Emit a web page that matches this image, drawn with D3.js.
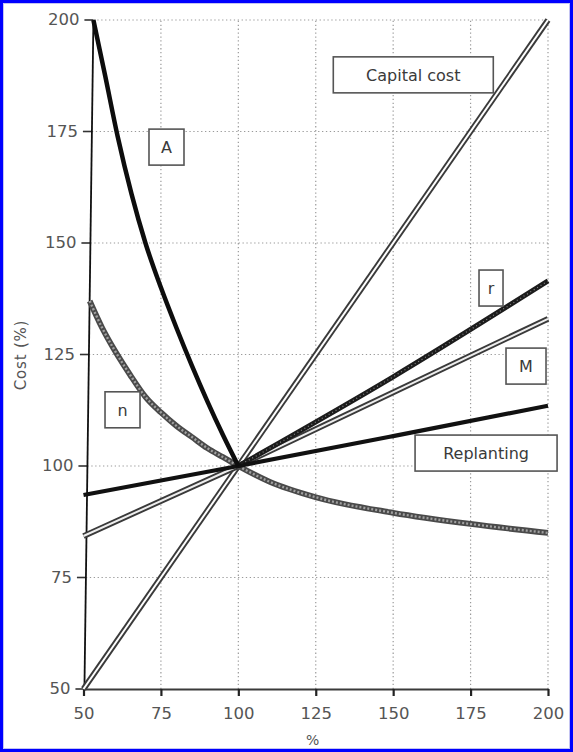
<!DOCTYPE html>
<html>
<head>
<meta charset="utf-8">
<script src="https://cdn.jsdelivr.net/npm/d3@7"></script>
<style>
  html, body { margin: 0; padding: 0; background: #fff; }
  svg { display: block; }
  text { font-family: "DejaVu Sans", "Noto Sans", sans-serif; }
</style>
</head>
<body>
<svg id="chart" width="573" height="752"></svg>
<script>
// Axis ticks
const xTicks = [50, 75, 100, 125, 150, 175, 200];
const yTicks = [50, 75, 100, 125, 150, 175, 200];

// Cost curves (x = %, y = cost %)
const capitalX = [50, 200];
const capitalY = [50, 200];

const aX = [53.2, 57, 61, 65.5, 70, 75, 80, 85, 90, 95, 100];
const aY = [200, 187.5, 174, 161, 150, 140, 131, 122.5, 114.5, 107, 100];

const nX = [52, 56, 60, 65, 70, 75, 80, 85, 90, 95, 100, 110, 125, 150, 175, 200];
const nY = [137, 131, 126, 120.5, 115.5, 112, 109, 106.5, 104, 102, 100, 96.5, 93, 89.5, 87, 85];

const rX = [100, 150, 200];
const rY = [100, 120, 141.5];

const mX = [50, 100, 150, 200];
const mY = [84.3, 100, 116.5, 133];

const replantX = [50, 100, 150, 200];
const replantY = [93.5, 100, 106.7, 113.5];

// Left edge of the frame, drawn slightly leaning
const edgeX = [50.3, 53.2];
const edgeY = [50, 200];

// Curve labels
const calloutText = ["Capital cost", "A", "r", "M", "Replanting", "n"];
const calloutX = [156.5, 76.8, 181.6, 192.9, 180, 62.6];
const calloutY = [187.7, 171.5, 139.9, 122.4, 102.9, 112.6];

const W = 573, H = 752;
const svg = d3.select("#chart");

// page frame
svg.append("rect").attr("x", 1.5).attr("y", 1.5).attr("width", W - 3).attr("height", H - 3)
  .attr("fill", "#fff").attr("stroke", "#0000ff").attr("stroke-width", 3);
svg.append("rect").attr("x", 3.5).attr("y", 3.5).attr("width", W - 7).attr("height", H - 7)
  .attr("fill", "none").attr("stroke", "#c4c4f2").attr("stroke-width", 1);

const x = d3.scaleLinear().domain([50, 200]).range([83.5, 548]);
const y = d3.scaleLinear().domain([50, 200]).range([689, 20]);

const edgeAt = d3.scaleLinear().domain(edgeY).range(edgeX);
const zip = (xs, ys) => xs.map((v, i) => [v, ys[i]]);

// grid
const grid = svg.append("g").attr("stroke", "#9a9a9a").attr("stroke-width", 1.2)
  .attr("stroke-dasharray", "1.3,2.6");
grid.selectAll("line.v").data(xTicks.filter(d => d > 50)).join("line")
  .attr("class", "v")
  .attr("x1", d => x(d)).attr("x2", d => x(d))
  .attr("y1", y(50)).attr("y2", y(200));
grid.selectAll("line.h").data(yTicks.filter(d => d > 50)).join("line")
  .attr("class", "h")
  .attr("x1", d => x(edgeAt(d))).attr("x2", x(200))
  .attr("y1", d => y(d)).attr("y2", d => y(d));

// x axis
const xAxis = svg.append("g").attr("transform", `translate(0,${y(50)})`)
  .call(d3.axisBottom(x).tickValues(xTicks).tickSize(7).tickPadding(11).tickSizeOuter(0));
xAxis.select(".domain").attr("stroke", "#3a3a3a").attr("stroke-width", 1.8);
xAxis.selectAll(".tick line").attr("stroke", "#222").attr("stroke-width", 2.2);
xAxis.selectAll(".tick text").attr("fill", "#555").attr("font-size", 16.5)
  .attr("font-family", "'DejaVu Sans', sans-serif");

// y axis: ticks follow the leaning edge line
const yAxis = svg.append("g").attr("transform", `translate(${x(50)},0)`)
  .call(d3.axisLeft(y).tickValues(yTicks).tickSize(9).tickPadding(5).tickSizeOuter(0));
yAxis.select(".domain").remove();
yAxis.selectAll(".tick")
  .attr("transform", d => `translate(${x(edgeAt(d)) - x(50)},${y(d)})`);
yAxis.selectAll(".tick line").attr("stroke", "#333").attr("stroke-width", 1.6);
yAxis.selectAll(".tick text").attr("fill", "#555").attr("font-size", 16.5)
  .attr("font-family", "'DejaVu Sans', sans-serif");

// axis titles
svg.append("text").attr("x", x(50) + (x(200) - x(50)) / 2 - 3).attr("y", 745)
  .attr("text-anchor", "middle").attr("font-size", 14).attr("fill", "#555").text("%");
svg.append("text").attr("transform", "translate(26,355) rotate(-90)")
  .attr("text-anchor", "middle").attr("font-size", 15).attr("letter-spacing", 0.8)
  .attr("fill", "#555").text("Cost (%)");

const straight = d3.line().x(d => x(d[0])).y(d => y(d[1]));
const smooth = d3.line().x(d => x(d[0])).y(d => y(d[1])).curve(d3.curveMonotoneX);
const lines = svg.append("g").attr("fill", "none").attr("stroke-linecap", "butt");

// leaning edge
lines.append("path").attr("d", straight(zip(edgeX, edgeY)))
  .attr("stroke", "#111").attr("stroke-width", 1.8);

// double-stroke lines
function doubleLine(pts, inner) {
  lines.append("path").attr("d", straight(pts)).attr("stroke", "#3a3a3a").attr("stroke-width", 5.8);
  lines.append("path").attr("d", straight(pts)).attr("stroke", inner).attr("stroke-width", 2);
}
doubleLine(zip(capitalX, capitalY), "#fff");
doubleLine(zip(mX, mY), "#eee");

// speckled curve n
lines.append("path").attr("d", smooth(zip(nX, nY))).attr("stroke", "#4a4a4a").attr("stroke-width", 5.8);
lines.append("path").attr("d", smooth(zip(nX, nY))).attr("stroke", "#a0a0a0").attr("stroke-width", 2.4)
  .attr("stroke-dasharray", "2,2");

// speckled dark line r
lines.append("path").attr("d", smooth(zip(rX, rY))).attr("stroke", "#1c1c1c").attr("stroke-width", 5);
lines.append("path").attr("d", smooth(zip(rX, rY))).attr("stroke", "#888").attr("stroke-width", 1.2)
  .attr("stroke-dasharray", "1,3");

// replanting
lines.append("path").attr("d", smooth(zip(replantX, replantY))).attr("stroke", "#111").attr("stroke-width", 4.2);

// curve A
lines.append("path").attr("d", smooth(zip(aX, aY))).attr("stroke", "#0d0d0d").attr("stroke-width", 4.5);

// callout boxes
const boxW = [160, 35, 24, 40, 142, 35];
const boxH = 36;
const callouts = svg.append("g");
calloutText.forEach((t, i) => {
  const cx = x(calloutX[i]), cy = y(calloutY[i]);
  callouts.append("rect")
    .attr("x", cx - boxW[i] / 2).attr("y", cy - boxH / 2)
    .attr("width", boxW[i]).attr("height", boxH)
    .attr("fill", "#fff").attr("stroke", "#555").attr("stroke-width", 1.6);
  callouts.append("text").attr("x", cx).attr("y", cy).attr("dy", "0.36em")
    .attr("text-anchor", "middle").attr("font-size", 16).attr("fill", "#3a3a3a").text(t);
});
</script>
</body>
</html>
